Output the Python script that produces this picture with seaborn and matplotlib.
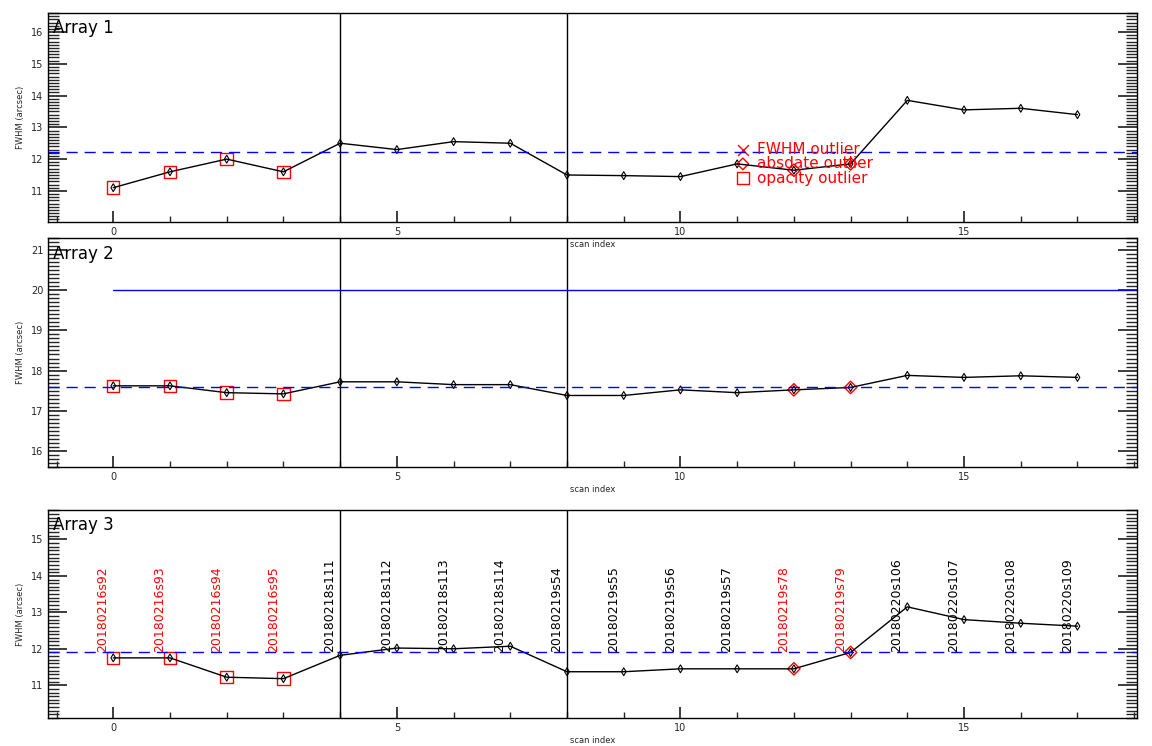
import matplotlib
matplotlib.use("Agg")
import matplotlib.pyplot as plt
from matplotlib.ticker import MultipleLocator
import numpy as np
import pandas as pd
import seaborn as sns

scan = list(range(18))
fwhm_a1 = [11.1, 11.6, 12.0, 11.6, 12.5, 12.3, 12.55, 12.5, 11.5, 11.48, 11.45, 11.85, 11.65, 11.85, 13.85, 13.55, 13.6, 13.4]
fwhm_a2 = [17.62, 17.62, 17.45, 17.42, 17.72, 17.72, 17.65, 17.65, 17.38, 17.38, 17.52, 17.45, 17.52, 17.58, 17.88, 17.83, 17.87, 17.83]
fwhm_a3 = [11.75, 11.75, 11.22, 11.18, 11.82, 12.02, 12.0, 12.07, 11.37, 11.37, 11.45, 11.45, 11.45, 11.9, 13.15, 12.8, 12.7, 12.62]
means = [12.22, 17.6, 11.9]
limit_a2 = 20.0
ylims = [(10.02, 16.6), (15.6, 21.3), (10.1, 15.8)]
opacity_out = [0, 1, 2, 3]
absdate_out = [12, 13]
night_breaks = [4, 8]
scan_names = ["20180216s92", "20180216s93", "20180216s94", "20180216s95",
              "20180218s111", "20180218s112", "20180218s113", "20180218s114",
              "20180219s54", "20180219s55", "20180219s56", "20180219s57",
              "20180219s78", "20180219s79", "20180220s106", "20180220s107",
              "20180220s108", "20180220s109"]
name_outlier = [True] * 4 + [False] * 8 + [True] * 2 + [False] * 4

sns.set_theme(style="white")
plt.rcParams["font.family"] = ["DejaVu Sans"]

fig = plt.figure(figsize=(11.52, 7.46), dpi=100)
boxes = [(0.0417, 0.7024, 0.9453, 0.2802),
         (0.0417, 0.374, 0.9453, 0.307),
         (0.0417, 0.0375, 0.9453, 0.2785)]

for i, vals in enumerate([fwhm_a1, fwhm_a2, fwhm_a3]):
    ax = fig.add_axes(boxes[i])
    ax.set_facecolor("none")
    df = pd.DataFrame({"scan": scan, "fwhm": vals})
    sns.lineplot(data=df, x="scan", y="fwhm", color="black", lw=1, ax=ax)
    sns.scatterplot(data=df, x="scan", y="fwhm", marker="d", s=16, facecolor="none",
                    edgecolor="black", linewidth=0.8, ax=ax)
    sub = df[df.scan.isin(opacity_out)]
    ax.scatter(sub.scan, sub.fwhm, marker="s", s=80, facecolor="none",
               edgecolor="red", linewidth=1)
    sub = df[df.scan.isin(absdate_out)]
    ax.scatter(sub.scan, sub.fwhm, marker="D", s=40, facecolor="none",
               edgecolor="red", linewidth=1)
    ax.axhline(means[i], color="blue", ls=(0, (8, 5)), lw=1)
    for b in night_breaks:
        ax.axvline(b, color="black", lw=1)
    if i == 1:
        ax.axhline(limit_a2, xmin=(0 + 1.15) / 19.2, color="blue", lw=1)
    ax.set_xlim(-1.15, 18.05)
    ax.set_ylim(*ylims[i])
    ax.xaxis.set_major_locator(MultipleLocator(5))
    ax.xaxis.set_minor_locator(MultipleLocator(1))
    ax.yaxis.set_major_locator(MultipleLocator(1))
    ax.yaxis.set_minor_locator(MultipleLocator(0.1))
    ax.tick_params(axis="both", which="both", direction="in", labelsize=7,
                   right=True, left=True, bottom=True, top=False)
    ax.tick_params(axis="y", which="major", length=14)
    ax.tick_params(axis="y", which="minor", length=8)
    ax.tick_params(axis="x", which="major", length=8)
    ax.tick_params(axis="x", which="minor", length=4)
    ax.set_yticks(ax.get_yticks())
    ax.set_yticklabels([f"{t:g}" for t in ax.get_yticks()])
    ax.set_ylim(*ylims[i])
    for s in ax.spines.values():
        s.set_color("black")
        s.set_linewidth(1)
    ax.set_xlabel("scan index", fontsize=6, labelpad=2)
    ax.set_ylabel("FWHM (arcsec)", fontsize=6, labelpad=4)
    ax.text(0.005, 0.97, f"Array {i + 1}", transform=ax.transAxes, fontsize=12,
            ha="left", va="top", color="black")
    if i == 0:
        lx, ly = 11.1, [12.3, 11.85, 11.4]
        ax.scatter([lx], [ly[0]], marker="x", s=60, color="red", linewidth=1)
        ax.scatter([lx], [ly[1]], marker="D", s=35, facecolor="none", edgecolor="red")
        ax.scatter([lx], [ly[2]], marker="s", s=70, facecolor="none", edgecolor="red")
        for y, t in zip(ly, ["FWHM outlier", "absdate outlier", "opacity outlier"]):
            ax.text(lx + 0.25, y, t, color="red", fontsize=11, va="center")
    if i == 2:
        for x, name, red in zip(scan, scan_names, name_outlier):
            ax.text(x - 0.18, means[2], name, rotation=90, ha="center", va="bottom",
                    fontsize=9, color="red" if red else "black")

fig.savefig("out.png", dpi=100, facecolor="white")
